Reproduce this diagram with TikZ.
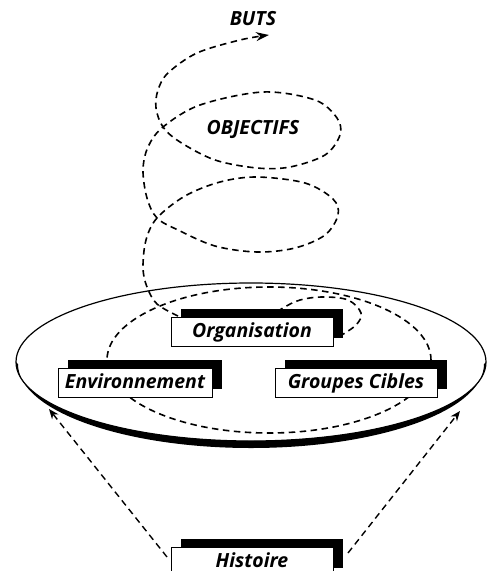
\documentclass[tikz,border=0pt]{standalone}
\usepackage{fontspec}
\setmainfont{Open Sans}
\usetikzlibrary{arrows.meta,shadows}
\tikzset{
  dsh/.style={line width=1.6pt, dash pattern=on 6.5pt off 4.5pt},
  lbl/.style={font=\fontsize{19.5}{21}\selectfont\bfseries\itshape, inner sep=0pt},
  sbox/.style={lbl, draw=black, line width=0.9pt, fill=white, minimum height=29pt,
    text height=14pt, text depth=3pt,
    general shadow={fill=black, shadow xshift=10pt, shadow yshift=8pt}},
}
\begin{document}
\begin{tikzpicture}[x=1pt,y=-1pt]
\useasboundingbox (0,0) rectangle (487,571);
% disk
\draw[line width=1.2pt] (251,362) ellipse [x radius=235, y radius=79];
\fill (16,362) arc[start angle=180, end angle=0, x radius=235, y radius=79]
  -- (484,364) arc[start angle=0, end angle=180, x radius=233, y radius=84] -- cycle;
% inner dashed ellipse
\draw[dsh] (269,360) ellipse [x radius=162, y radius=73];
% small loop near Organisation
\draw[dsh] plot[smooth, tension=0.6] coordinates {(268,318) (283,308) (300,300) (323,297) (348,300) (361,313) (356,325) (340,336)};
% spiral
\draw[dsh, -{Stealth[length=13pt,width=9pt]}] plot[smooth, tension=0.55] coordinates {
 (178,316) (157,304) (147,287) (143,268) (146,240) (157,218) (185,196) (220,182) (257,177)
 (305,183) (333,199) (338,215) (325,235) (295,248) (257,252) (215,246) (178,230) (157,218)
 (147,198) (143,170) (148,147) (163,127) (200,105) (263,92) (315,100) (337,118) (340,135)
 (325,155) (290,167) (257,168) (215,160) (180,142) (163,127) (156,108) (158,90) (168,73)
 (197,53) (240,40) (269,35)};
% boxes
\node[sbox, minimum width=162pt] (org) at (252,331.5) {Organisation};
\node[sbox, minimum width=154pt] (env) at (135,382.5) {Environnement};
\node[sbox, minimum width=162pt] (grp) at (356,382.5) {Groupes Cibles};
\node[sbox, minimum width=162pt] (hist) at (252,561.5) {Histoire};
% titles
\node[lbl] (buts) at (253,19) {BUTS};
\node[lbl] (obj) at (253,129) {OBJECTIFS};
% arrows from Histoire
\coordinate (hl) at (167,557);
\coordinate (hr) at (348,553);
\coordinate (dl) at (49,409);
\coordinate (dr) at (460,411);
\draw[dsh, line width=1.4pt, -{Stealth[length=10pt,width=8pt]}] (hl) -- (dl);
\draw[dsh, line width=1.4pt, -{Stealth[length=10pt,width=8pt]}] (hr) -- (dr);
\end{tikzpicture}
\end{document}
